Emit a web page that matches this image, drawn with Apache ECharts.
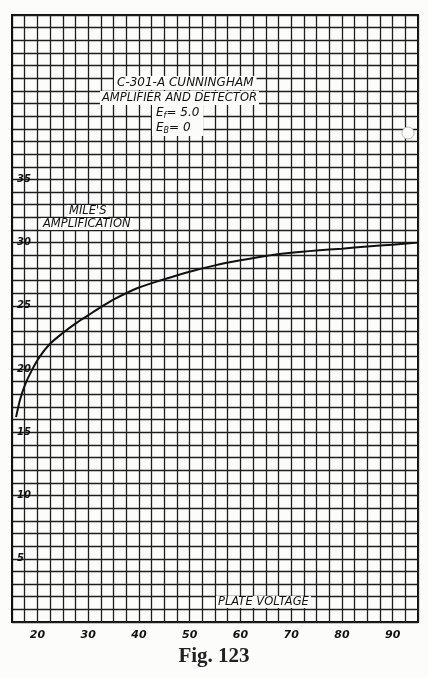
<!DOCTYPE html>
<html>
<head>
<meta charset="utf-8">
<script src="https://cdn.jsdelivr.net/npm/echarts@6/dist/echarts.min.js"></script>
<style>
html,body{margin:0;padding:0;background:#fcfcfa;}
#chart{width:428px;height:678px;}
</style>
</head>
<body>
<div id="chart"></div>
<script>
// Plate voltage (V) and Mile's amplification
var plateVoltage = [15.8, 16.6, 17.6, 18.9, 20.5, 22.5, 25, 27.5, 30, 32.5, 35, 40, 45, 50, 55, 60, 65, 70, 75, 80, 85, 90, 95];
var amplification = [16.2, 17.6, 18.8, 19.9, 21.0, 22.0, 22.85, 23.6, 24.25, 24.9, 25.5, 26.45, 27.1, 27.7, 28.2, 28.6, 28.95, 29.2, 29.38, 29.52, 29.7, 29.84, 30.0];
var xTickLabels = [20, 30, 40, 50, 60, 70, 80, 90];
var yTickLabels = [5, 10, 15, 20, 25, 30, 35];

var hand = 'DejaVu Sans';
var chart = echarts.init(document.getElementById('chart'));
var data = plateVoltage.map(function (v, i) { return [v, amplification[i]]; });

chart.setOption({
  backgroundColor: '#fcfcfa',
  animation: false,
  grid: { left: 12, top: 15, width: 406, height: 607, show: true, borderColor: '#111', borderWidth: 2, backgroundColor: 'transparent' },
  xAxis: {
    type: 'value', min: 15, max: 95, interval: 2.5,
    axisLine: { show: false }, axisTick: { show: false },
    splitLine: { show: true, lineStyle: { color: '#1e1e1e', width: 1.3 } },
    axisLabel: {
      margin: 8, color: '#111', fontFamily: hand, fontStyle: 'italic', fontWeight: 'bold', fontSize: 11,
      formatter: function (v) { return xTickLabels.indexOf(v) >= 0 ? String(v) : ''; }
    }
  },
  yAxis: {
    type: 'value', min: 0, max: 48, interval: 1,
    axisLine: { show: false }, axisTick: { show: false },
    splitLine: { show: true, lineStyle: { color: '#1e1e1e', width: 1.3 } },
    axisLabel: {
      inside: true, margin: 5, color: '#111', fontFamily: hand, fontStyle: 'italic', fontWeight: 'bold', fontSize: 10,
      formatter: function (v) { return yTickLabels.indexOf(v) >= 0 ? String(v) : ''; }
    }
  },
  series: [{
    type: 'line', data: data, smooth: 0.3, showSymbol: false,
    lineStyle: { color: '#111', width: 2 }, z: 5
  }],
  graphic: [
    { type: 'rect', shape: { x: 11, y: 14, width: 2, height: 609 }, style: { fill: '#111' }, z: 10 },
    { type: 'text', left: 114, top: 76, z: 20, style: { text: 'C-301-A CUNNINGHAM', font: 'italic 12px "DejaVu Sans"', fill: '#111', backgroundColor: '#fcfcfa', padding: [1, 3] } },
    { type: 'text', left: 100, top: 91, z: 20, style: { text: 'AMPLIFIER AND DETECTOR', font: 'italic 11.5px "DejaVu Sans"', fill: '#111', backgroundColor: '#fcfcfa', padding: [1, 2] } },
    { type: 'text', left: 152, top: 104, z: 20, style: {
        text: '{a|E}{s|f}{a|= 5.0}\n{a|E}{s|B}{a|= 0}',
        rich: { a: { font: 'italic 12px "DejaVu Sans"', fill: '#111', lineHeight: 15 }, s: { font: 'italic 8px "DejaVu Sans"', fill: '#111', padding: [6, 0, 0, 0], lineHeight: 15 } },
        backgroundColor: '#fcfcfa', padding: [1, 4] } },
    { type: 'text', left: 67, top: 205, z: 20, style: { text: "MILE'S", font: 'italic 11.5px "DejaVu Sans"', fill: '#111', backgroundColor: '#fcfcfa', padding: [0, 2] } },
    { type: 'text', left: 41, top: 218, z: 20, style: { text: 'AMPLIFICATION', font: 'italic 11.5px "DejaVu Sans"', fill: '#111', backgroundColor: '#fcfcfa', padding: [0, 2] } },
    { type: 'text', left: 216, top: 596, z: 20, style: { text: 'PLATE VOLTAGE', font: 'italic 11.5px "DejaVu Sans"', fill: '#111', backgroundColor: '#fcfcfa', padding: [0, 2] } },
    { type: 'circle', shape: { cx: 408, cy: 133, r: 6 }, style: { fill: '#fcfcfa', stroke: '#bbb', lineWidth: 1 }, z: 15 },
    { type: 'text', left: 'center', top: 646, z: 20, style: { text: 'Fig. 123', font: 'bold 21px "Liberation Serif"', fill: '#222' } }
  ]
});
</script>
</body>
</html>
